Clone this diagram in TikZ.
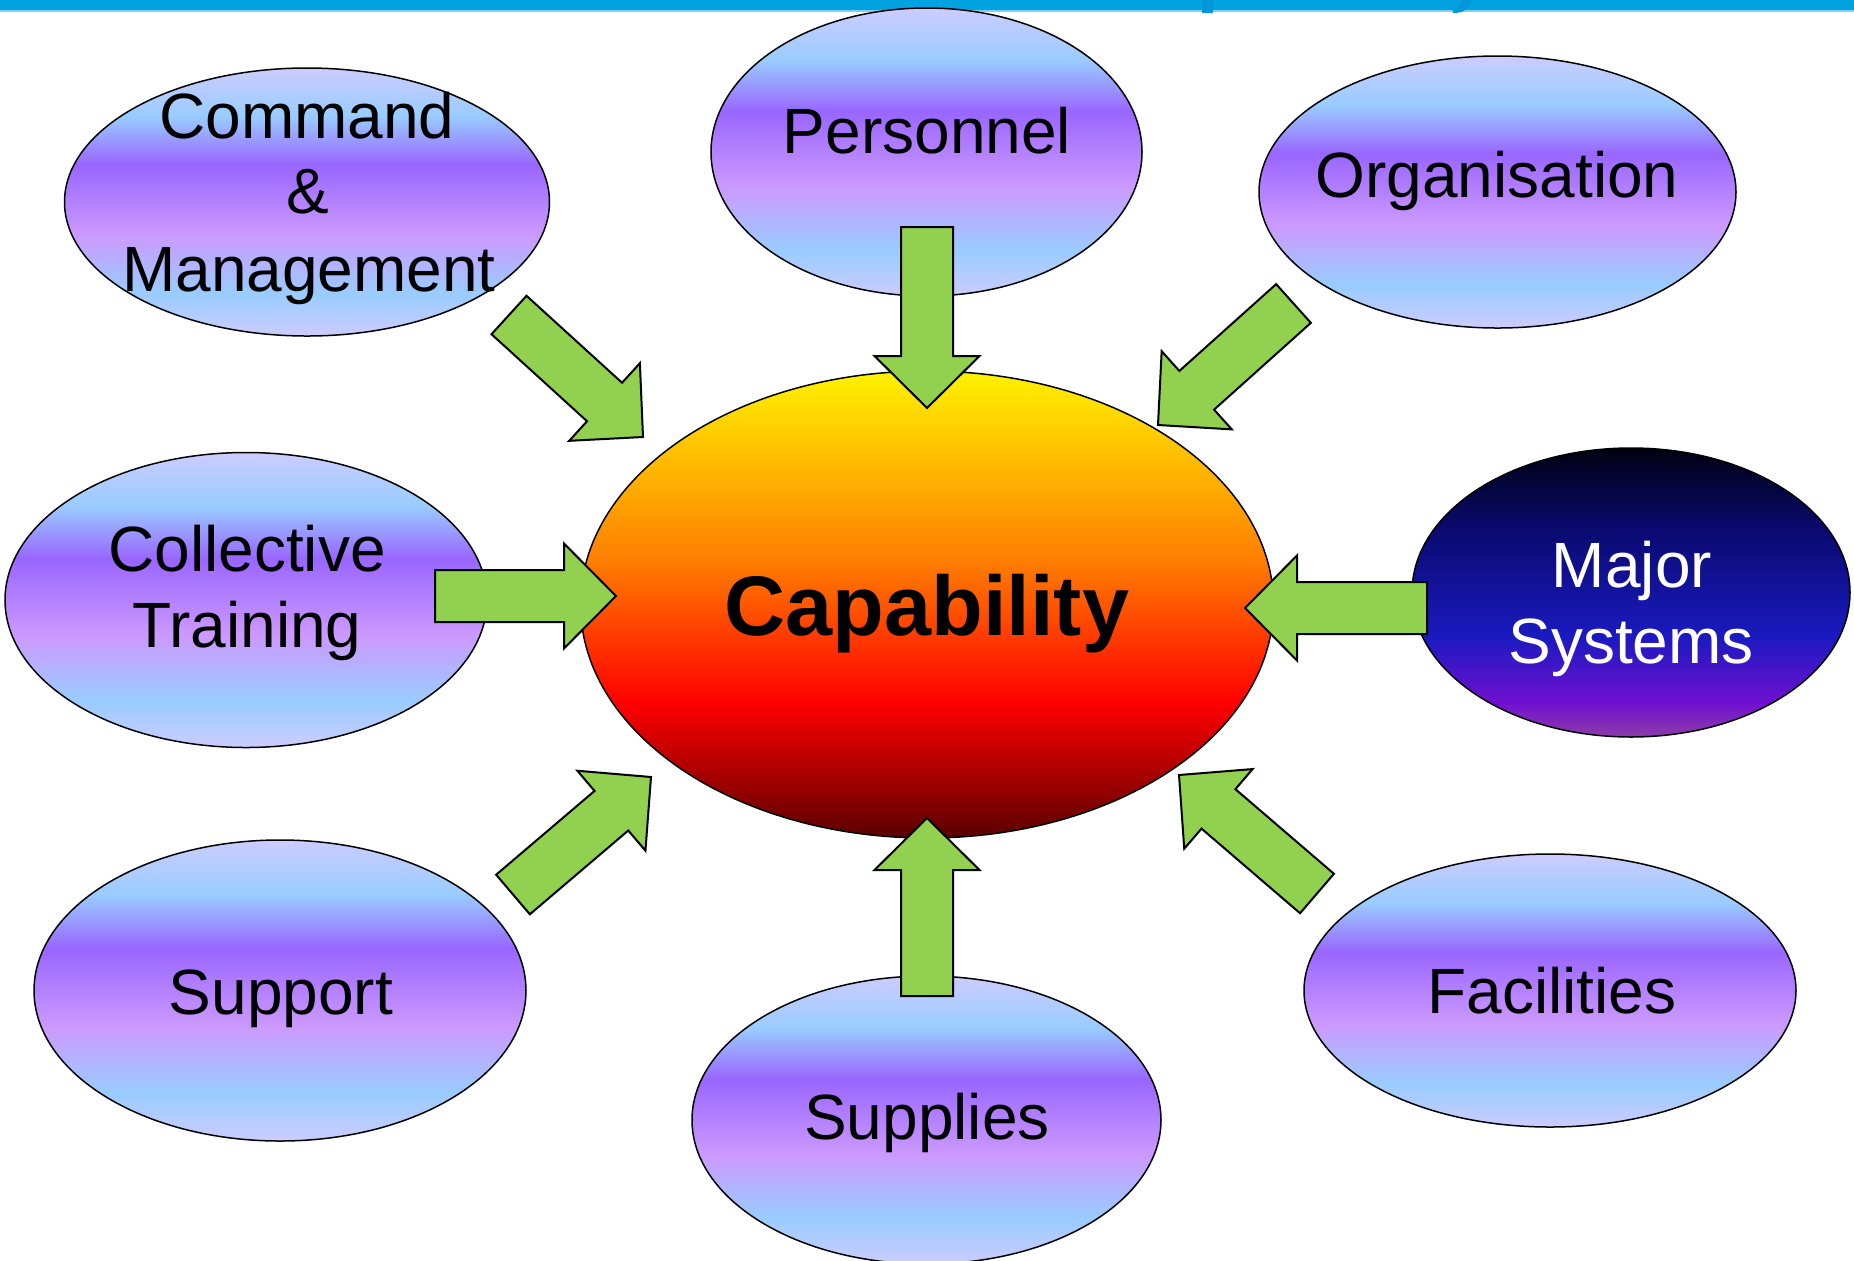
\documentclass[tikz,border=0pt]{standalone}
\usepackage{fontspec}
\setmainfont{Liberation Sans}
\usetikzlibrary{shapes.geometric,calc}
\definecolor{lav}{HTML}{CCCCFF}
\definecolor{lblue}{HTML}{99CCFF}
\definecolor{purp}{HTML}{9966FF}
\definecolor{lpurp}{HTML}{CC99FF}
\definecolor{capY}{HTML}{FFF200}
\definecolor{capO}{HTML}{FF8000}
\definecolor{capR}{HTML}{FF0000}
\definecolor{capD}{HTML}{5A0000}
\definecolor{msA}{HTML}{000010}
\definecolor{msB}{HTML}{0A0A70}
\definecolor{msC}{HTML}{1A1AC0}
\definecolor{msD}{HTML}{7010D0}
\definecolor{msE}{HTML}{8C3CA8}
\definecolor{arrowgreen}{HTML}{92D050}
\definecolor{barblue}{HTML}{00A3E0}
\definecolor{barline}{HTML}{80D0F0}
\definecolor{titleblue}{HTML}{0098D8}
\pgfdeclareverticalshading{blueball}{100bp}{color(0bp)=(lav); color(25bp)=(lav); color(33bp)=(lblue); color(44bp)=(lpurp); color(57bp)=(purp); color(66bp)=(lblue); color(75bp)=(lav); color(100bp)=(lav)}
\pgfdeclareverticalshading{capball}{100bp}{color(0bp)=(capD); color(25bp)=(capD); color(39.5bp)=(capR); color(55bp)=(capO); color(75bp)=(capY); color(100bp)=(capY)}
\pgfdeclareverticalshading{majorball}{100bp}{color(0bp)=(msE); color(25bp)=(msE); color(31bp)=(msD); color(42.5bp)=(msC); color(61bp)=(msB); color(75bp)=(msA); color(100bp)=(msA)}
\tikzset{
  oval/.style={shape=ellipse, draw=black, line width=0.75pt, inner sep=0pt, outer sep=0pt, shade, shading=blueball},
  lbl/.style={anchor=base, inner sep=0pt, font=\fontsize{32}{38}\selectfont},
  biglbl/.style={anchor=base, inner sep=0pt, font=\fontsize{42.3}{50}\selectfont\bfseries},
  greenarrow/.style={fill=arrowgreen, draw=black, line width=1pt, line join=miter}
}
\newcommand{\blockarrow}[2]{%
  \coordinate (hb) at ($(#2)!26pt!(#1)$);
  \draw[greenarrow] ($(#1)!13pt!90:(#2)$) -- ($(hb)!13pt!90:(#2)$) -- ($(hb)!26.25pt!90:(#2)$) -- (#2)
    -- ($(hb)!26.25pt!-90:(#2)$) -- ($(hb)!13pt!-90:(#2)$) -- ($(#1)!13pt!-90:(#2)$) -- cycle;
}
\begin{document}
\begin{tikzpicture}[x=0.5pt, y=-0.5pt]
\clip (0,0) rectangle (1854,1260);
\fill[white] (0,0) rectangle (1854,1260);
% top bar
\fill[barblue] (0,0) rectangle (1854,10);
\fill[barline] (0,10) rectangle (1854,12);
\fill[titleblue] (1202,0) rectangle (1213,13);
\fill[titleblue] (1461,0) -- (1472,0) .. controls (1469,9) and (1464,13) .. (1453,13) -- (1453,9) .. controls (1458,9) and (1460,6) .. cycle;
% ellipses
\node[oval, minimum width=242.5pt, minimum height=134pt] (cm) at (307,202) {};
\node[oval, minimum width=215.5pt, minimum height=144pt] (personnel) at (926.5,152) {};
\node[oval, minimum width=238.5pt, minimum height=136pt] (organisation) at (1497.5,192) {};
\node[oval, minimum width=241pt, minimum height=147.5pt] (collective) at (246,600) {};
\node[oval, shading=capball, minimum width=346.5pt, minimum height=233.5pt] (capability) at (927,604.5) {};
\node[oval, shading=majorball, minimum width=219pt, minimum height=144.5pt] (major) at (1631,592.5) {};
\node[oval, minimum width=246pt, minimum height=150.5pt] (support) at (280,990.5) {};
\node[oval, minimum width=234.5pt, minimum height=144pt] (supplies) at (926.5,1120) {};
\node[oval, minimum width=246pt, minimum height=136.5pt] (facilities) at (1550,990.5) {};
% arrow ends
\coordinate (a1s) at (509,315);    \coordinate (a1e) at (643,437);
\coordinate (a2s) at (927,227);    \coordinate (a2e) at (927,408);
\coordinate (a3s) at (1293.5,303.5); \coordinate (a3e) at (1158,425);
\coordinate (a4s) at (435,596);    \coordinate (a4e) at (616,596);
\coordinate (a5s) at (1427,608);   \coordinate (a5e) at (1245,608);
\coordinate (a6s) at (513,894.5);  \coordinate (a6e) at (651,777);
\coordinate (a7s) at (927,996);    \coordinate (a7e) at (927,818);
\coordinate (a8s) at (1317,893.5); \coordinate (a8e) at (1179,775);
\blockarrow{a1s}{a1e}
\blockarrow{a2s}{a2e}
\blockarrow{a3s}{a3e}
\blockarrow{a4s}{a4e}
\blockarrow{a5s}{a5e}
\blockarrow{a6s}{a6e}
\blockarrow{a7s}{a7e}
\blockarrow{a8s}{a8e}
% labels
\node[lbl] (cm-t1) at (307,138) {Command};
\node[lbl] (cm-t2) at (308,213) {\&};
\node[lbl] (cm-t3) at (309,291) {Management};
\node[lbl] (personnel-t) at (927,153) {Personnel};
\node[lbl] (organisation-t) at (1497,197) {Organisation};
\node[lbl] (collective-t1) at (247,571) {Collective};
\node[lbl] (collective-t2) at (247,647) {Training};
\node[biglbl] (capability-t) at (927,635) {Capability};
\node[lbl, text=white] (major-t1) at (1632,587) {Major};
\node[lbl, text=white] (major-t2) at (1631,663) {Systems};
\node[lbl] (support-t) at (281,1014) {Support};
\node[lbl] (supplies-t) at (927,1139) {Supplies};
\node[lbl] (facilities-t) at (1552,1013) {Facilities};
\end{tikzpicture}
\end{document}
